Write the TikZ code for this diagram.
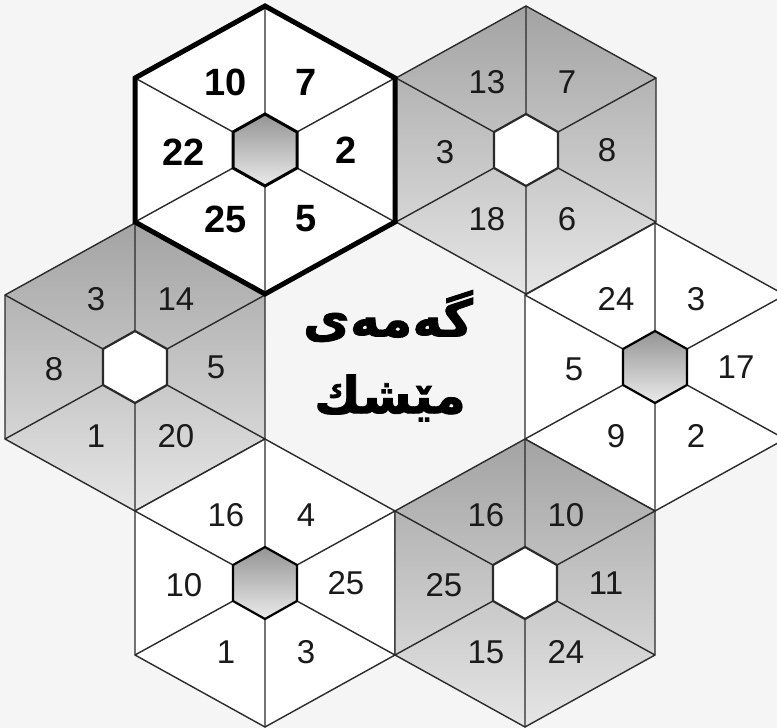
\documentclass[tikz,border=0pt]{standalone}
\usepackage{fontspec}
\setmainfont{Liberation Sans}
\newfontfamily\kurdfont[Script=Arabic,FakeBold=1.5]{DejaVu Sans}
\TeXXeTstate=1
\usetikzlibrary{calc}
\definecolor{bgc}{HTML}{F5F5F5}
\definecolor{linec}{HTML}{2A2A2A}
\definecolor{numc}{HTML}{1A1A1A}
\tikzset{
  thinline/.style={draw=linec, line width=1.4pt},
  graycell/.style={top color=black!36, bottom color=black!10},
  whitecell/.style={fill=white},
  grayinner/.style={top color=black!42, bottom color=black!8, draw=black, line width=2.2pt},
  grayinnerbold/.style={top color=black!42, bottom color=black!8, draw=black, line width=3pt},
  whiteinner/.style={fill=white, draw=linec, line width=2.2pt},
  num/.style={font=\fontsize{33}{33}\selectfont, text=numc, inner sep=0pt},
  boldnum/.style={font=\fontsize{38}{38}\selectfont\bfseries, text=black, inner sep=0pt},
  title/.style={font=\kurdfont\bfseries\fontsize{51}{51}\selectfont, text=black, inner sep=0pt},
  boldrim/.style={draw=black, line width=5pt, line join=miter},
}
\newcommand\hexcell[5]{%
  \begin{scope}[shift={(#2,#3)}]
    \coordinate (#1) at (0,0);
    \path[#4] (0,-144) -- (130,-72) -- (130,72) -- (0,144) -- (-130,72) -- (-130,-72) -- cycle;
    \draw[thinline] (0,-36) -- (0,-144) (32,-18) -- (130,-72) (32,18) -- (130,72)
      (0,36) -- (0,144) (-32,18) -- (-130,72) (-32,-18) -- (-130,-72);
    \draw[thinline] (0,-144) -- (130,-72) -- (130,72) -- (0,144) -- (-130,72) -- (-130,-72) -- cycle;
    \path[#5] (0,-36) -- (32,-18) -- (32,18) -- (0,36) -- (-32,18) -- (-32,-18) -- cycle;
  \end{scope}}
\newcommand\hexnums[8]{%
  \node[#2] (#1-tl) at ($(#1)+(-39,-68)$) {#3};
  \node[#2] (#1-tr) at ($(#1)+(41,-68)$) {#4};
  \node[#2] (#1-l)  at ($(#1)+(-81,2)$) {#5};
  \node[#2] (#1-r)  at ($(#1)+(81,0)$) {#6};
  \node[#2] (#1-bl) at ($(#1)+(-39,69)$) {#7};
  \node[#2] (#1-br) at ($(#1)+(41,69)$) {#8};}
\begin{document}
\begin{tikzpicture}[x=1pt,y=-1pt]
  \fill[bgc] (0,0) rectangle (777,728);
  \useasboundingbox (0,0) rectangle (777,728);
  \hexcell{hT}{265}{150}{whitecell}{grayinnerbold}
  \hexcell{hTR}{526}{150}{graycell}{whiteinner}
  \hexcell{hL}{135}{367}{graycell}{whiteinner}
  \hexcell{hR}{655}{367}{whitecell}{grayinner}
  \hexcell{hBL}{265}{583}{whitecell}{grayinner}
  \hexcell{hBR}{525}{583}{graycell}{whiteinner}
  \begin{scope}[shift={(265,150)}]
    \draw[boldrim] (0,-144) -- (130,-72) -- (130,72) -- (0,144) -- (-130,72) -- (-130,-72) -- cycle;
  \end{scope}
  \hexnums{hT}{boldnum}{10}{7}{22}{2}{25}{5}
  \hexnums{hTR}{num}{13}{7}{3}{8}{18}{6}
  \hexnums{hL}{num}{3}{14}{8}{5}{1}{20}
  \hexnums{hR}{num}{24}{3}{5}{17}{9}{2}
  \hexnums{hBL}{num}{16}{4}{10}{25}{1}{3}
  \hexnums{hBR}{num}{16}{10}{25}{11}{15}{24}
  \node[title] (t1) at (388,316) {\beginR گەمەی\endR};
  \node[title] (t2) at (390,398) {\beginR مێشك\endR};
\end{tikzpicture}
\end{document}
